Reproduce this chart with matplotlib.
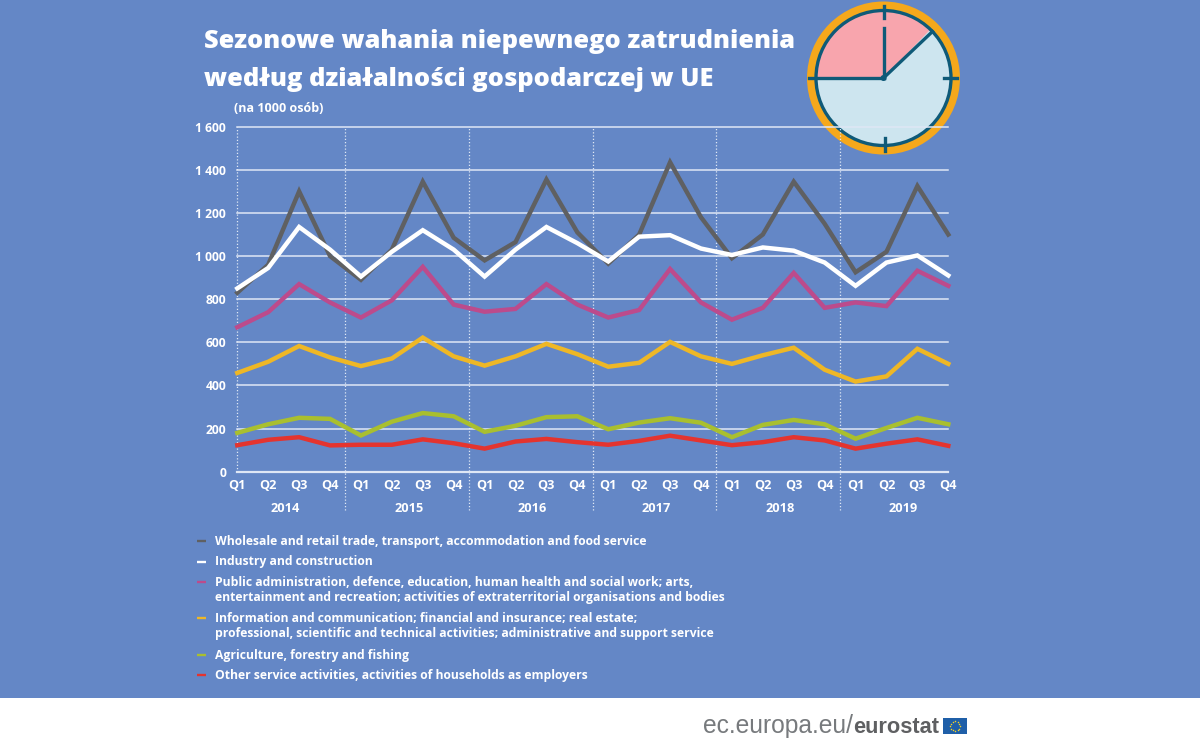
import matplotlib
matplotlib.use("Agg")
import matplotlib.pyplot as plt
from matplotlib.patches import Circle, Wedge, Rectangle
import numpy as np

W, H = 1200, 747
BLUE = "#6487c6"
FONT = "Open Sans"

years = ["2014", "2015", "2016", "2017", "2018", "2019"]
quarters = ["Q1", "Q2", "Q3", "Q4"]
yticks = [0, 200, 400, 600, 800, 1000, 1200, 1400, 1600]
ytick_labels = ["0", "200", "400", "600", "800", "1 000", "1 200", "1 400", "1 600"]

wholesale = [830, 960, 1300, 1000, 890, 1030, 1345, 1085, 980, 1065, 1355, 1110,
             965, 1100, 1435, 1180, 990, 1100, 1345, 1150, 925, 1020, 1325, 1100]
industry = [850, 945, 1135, 1030, 905, 1020, 1120, 1030, 905, 1030, 1135, 1060,
            975, 1090, 1097, 1035, 1005, 1040, 1025, 970, 862, 970, 1003, 910]
public = [670, 740, 870, 785, 715, 795, 950, 775, 742, 755, 870, 775,
          715, 750, 940, 785, 705, 760, 922, 760, 785, 768, 932, 862]
info = [458, 510, 583, 530, 490, 525, 622, 535, 492, 535, 593, 545,
        487, 505, 602, 535, 500, 540, 575, 473, 418, 442, 570, 500]
agri = [180, 220, 250, 245, 168, 232, 272, 257, 185, 213, 253, 257,
        197, 228, 248, 227, 160, 217, 240, 220, 153, 203, 250, 220]
other = [123, 148, 160, 122, 125, 125, 150, 132, 107, 140, 152, 137,
         125, 143, 167, 145, 123, 137, 160, 145, 107, 130, 150, 120]

names = [
    "Wholesale and retail trade, transport, accommodation and food service",
    "Industry and construction",
    "Public administration, defence, education, human health and social work; arts,\nentertainment and recreation; activities of extraterritorial organisations and bodies",
    "Information and communication; financial and insurance; real estate;\nprofessional, scientific and technical activities; administrative and support service",
    "Agriculture, forestry and fishing",
    "Other service activities, activities of households as employers",
]
series = [wholesale, industry, public, info, agri, other]
colors = ["#5f6062", "#ffffff", "#bc4b8c", "#eeb726", "#a9bf2f", "#e4342f"]
legend_y = [541, 562, 590, 626, 655, 675]

fig = plt.figure(figsize=(W / 100, H / 100), dpi=100, facecolor=BLUE)

# page layer in pixel coordinates
bg = fig.add_axes([0, 0, 1, 1])
bg.set_xlim(0, W)
bg.set_ylim(H, 0)
bg.axis("off")
bg.add_patch(Rectangle((0, 698), W, 49, fc="white", ec="none"))

# chart axes
L, R, T, B = 237.3, 948.3, 126.7, 471.7
ax = fig.add_axes([L / W, 1 - B / H, (R - L) / W, (B - T) / H])
ax.patch.set_alpha(0)
x = np.arange(len(wholesale))
ax.set_xlim(0, len(x) - 1)
ax.set_ylim(0, 1600)
for s in ax.spines.values():
    s.set_visible(False)
ax.set_yticks(yticks, ytick_labels)
ax.tick_params(axis="y", length=0, pad=8, labelcolor="white", labelsize=8.7)
for lab in ax.get_yticklabels():
    lab.set_fontfamily(FONT)
    lab.set_fontweight("bold")
ax.set_xticks(x, [quarters[i % 4] for i in x])
ax.tick_params(axis="x", length=0, pad=5, labelcolor="white", labelsize=9.2)
for lab in ax.get_xticklabels():
    lab.set_fontfamily(FONT)
    lab.set_fontweight("bold")
for v in yticks:
    ax.axhline(v, color="#dfe7f5", lw=1.1 if v else 1.6, zorder=1, clip_on=False)

# year separators reach below the axis
for sep in [0, 3.5, 7.5, 11.5, 15.5, 19.5]:
    ax.plot([sep, sep], [0 if sep == 0 else -178, 1600], color="#dfe7f5", lw=0.9,
            ls=(0, (1, 1.6)), zorder=1, clip_on=False)

for vals, c in zip(series, colors):
    ax.plot(x, vals, color=c, lw=3.2, solid_joinstyle="miter", zorder=3, clip_on=False)

# year labels
for i, yr in enumerate(years):
    ax.annotate(yr, (4 * i + 1.55, 0), xytext=(0, -26.3), textcoords="offset points",
                ha="center", va="center", color="white", fontsize=9.2,
                fontweight="bold", family=FONT, annotation_clip=False)

# titles
bg.text(204, 41, "Sezonowe wahania niepewnego zatrudnienia", color="white", fontsize=18.3,
        fontweight=800, family=FONT, va="center", ha="left")
bg.text(204, 79, "według działalności gospodarczej w UE", color="white", fontsize=18.3,
        fontweight=800, family=FONT, va="center", ha="left")
bg.text(234, 108, "(na 1000 osób)", color="white", fontsize=9.0, fontweight="bold",
        family=FONT, va="center", ha="left")

# legend
for ly, name, c in zip(legend_y, names, colors):
    first_y = ly - 8 if "\n" in name else ly
    bg.plot([197, 206], [first_y, first_y], color=c, lw=1.7, solid_capstyle="butt")
    bg.text(215, ly, name, color="white", fontsize=8.75, fontweight="bold", family=FONT,
            va="center", ha="left", linespacing=1.28)

# clock
cx, cy = 883.5, 78
teal = "#0f5a78"
R_RING = 67.5
bg.add_patch(Circle((cx, cy), 76.5, fc="#f5a81c", ec="none", zorder=5))
bg.add_patch(Circle((cx, cy), R_RING, fc="#cde5ef", ec="none", zorder=6))
bg.add_patch(Wedge((cx, cy), R_RING, 180, 314, fc="#f8a5ad", ec="none", zorder=7))
bg.add_patch(Circle((cx, cy), R_RING, fc="none", ec=teal, lw=2.4, zorder=8))
a = np.radians(46.5)
bg.plot([cx, cx + R_RING * np.sin(a)], [cy, cy - R_RING * np.cos(a)], color=teal, lw=2.4, zorder=9)
bg.plot([cx, cx], [cy, cy - 50], color=teal, lw=2.4, zorder=9)
bg.plot([cx, cx - 75], [cy, cy], color=teal, lw=2.4, zorder=9)
bg.plot([cx + 60, cx + 73], [cy, cy], color=teal, lw=2.4, zorder=9)
bg.plot([cx, cx], [cy - 72, cy - 60], color=teal, lw=2.4, zorder=9)
bg.plot([cx + 1, cx + 1], [cy + 60, cy + 73], color=teal, lw=2.4, zorder=9)
bg.add_patch(Circle((cx, cy), 3, fc=teal, ec="none", zorder=10))

# footer
bg.text(703, 733, "ec.europa.eu/", color="#777a7d", fontsize=17.7,
        family="Liberation Sans", va="baseline", ha="left")
bg.text(853, 733, "eurostat", color="#5f6062", fontsize=15.7, fontweight="bold",
        family="Liberation Sans", va="baseline", ha="left")
fx, fy, fw, fh = 943, 718, 24, 16
bg.add_patch(Rectangle((fx, fy), fw, fh, fc="#1f5fa8", ec="none"))
ang = np.arange(12) * np.pi / 6
bg.scatter(fx + fw / 2 + 5 * np.cos(ang), fy + fh / 2 + 5 * np.sin(ang), s=1.2,
           c="#f5d327", linewidths=0)

bg.set_xlim(0, W)
bg.set_ylim(H, 0)
fig.savefig("out.png", dpi=100, facecolor=BLUE)
